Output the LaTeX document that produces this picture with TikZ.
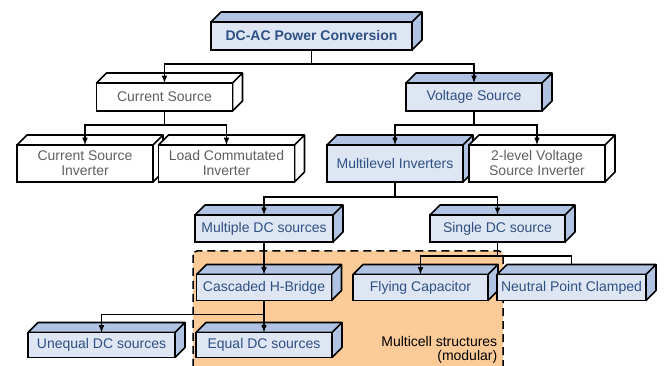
\documentclass[tikz,border=0pt]{standalone}
\usepackage{fontspec}
\setmainfont{Liberation Sans}
\usetikzlibrary{arrows}

\definecolor{frontblue}{RGB}{222,230,244}
\definecolor{sideblue}{RGB}{176,195,227}
\definecolor{txtblue}{RGB}{47,80,130}
\definecolor{txtgray}{RGB}{95,95,95}
\definecolor{modorange}{RGB}{252,203,152}

\tikzset{
  faces/.style={append after command={\pgfextra{
    \draw[line width=1.6pt,line join=round,fill=#1]
      (\tikzlastnode.north west) -- ++(10,10)
      -- ([shift={(10,10)}]\tikzlastnode.north east)
      -- ([shift={(10,10)}]\tikzlastnode.south east)
      -- (\tikzlastnode.south east) -- (\tikzlastnode.north east) -- cycle
      (\tikzlastnode.north east) -- ++(10,10);}}},
  box/.style={draw,line width=1.6pt,inner sep=0pt,outer sep=0pt,align=center,
    minimum width=136pt,minimum height=28pt,font=\fontsize{14}{15}\selectfont},
  bluebox/.style={box,fill=frontblue,text=txtblue,faces=sideblue},
  whitebox/.style={box,fill=white,text=txtgray,faces=white}
}

\begin{document}
\begin{tikzpicture}[x=1pt,y=1pt,>=latex,line width=1.5pt]

\useasboundingbox (0,0) rectangle (671,366);

% modular part
\draw[dashed,dash pattern=on 8pt off 5pt,fill=modorange,rounded corners=4pt] (193,115) rectangle (503,-20);
\node[anchor=north east,align=right,inner sep=0pt,font=\fontsize{14}{14}\selectfont] (modlabel) at (498,30) {Multicell structures\\(modular)};

\node[bluebox,minimum width=201pt,font=\bfseries\fontsize{14}{15}\selectfont] (conv) at (311.5,330) {DC-AC Power Conversion};

\node[whitebox] (cs) at (164.5,269) {Current Source};
\node[bluebox]  (vs) at (474,269) {Voltage Source};

\node[whitebox,minimum height=37pt] (csi) at (85,202.5) {Current Source\\Inverter};
\node[whitebox,minimum height=37pt] (lci) at (226.5,202.5) {Load Commutated\\Inverter};
\node[bluebox,minimum height=37pt]  (mli) at (395,202.5) {Multilevel Inverters};
\node[whitebox,minimum height=37pt] (lvl2) at (537,202.5) {2-level Voltage\\Source Inverter};

\node[bluebox,minimum width=138pt,minimum height=27pt] (mdc) at (264,137.5) {Multiple DC sources};
\node[bluebox,minimum width=135pt,minimum height=27pt] (sdc) at (497.5,137.5) {Single DC source};

\node[bluebox,minimum width=135pt,minimum height=26pt] (chb) at (264,78.5) {Cascaded H-Bridge};
\node[bluebox,minimum width=135pt,minimum height=26pt] (fc)  at (420.5,78.5) {Flying Capacitor};
\node[bluebox,minimum width=149pt,minimum height=26pt] (npc) at (571.5,78.5) {Neutral Point Clamped};

\node[bluebox,minimum width=147pt,minimum height=25pt] (udc) at (101.5,21) {Unequal DC sources};
\node[bluebox,minimum width=136pt,minimum height=25pt] (edc) at (264,21) {Equal DC sources};

% connectors
\draw[->] (conv.south) -- ++(0,-14) -| (cs.north);
\draw[->] (conv.south) -- ++(0,-14) -| (vs.north);
\draw[->] (cs.south) -- ++(0,-14) -| (csi.north);
\draw[->] (cs.south) -- ++(0,-14) -| (lci.north);
\draw[->] (vs.south) -- ++(0,-14) -| (mli.north);
\draw[->] (vs.south) -- ++(0,-14) -| (lvl2.north);
\draw[->] (mli.south) -- ++(0,-15) -| (mdc.north);
\draw[->] (mli.south) -- ++(0,-15) -| (sdc.north);
\draw[->] (sdc.south) -- ++(0,-14) -| (fc.north);
\draw     (sdc.south) -- ++(0,-14) -| ([yshift=10pt]npc.north);
\draw[->] (mdc.south) -- (chb.north);
\draw[->] (chb.south) -- ++(0,-14) -| (udc.north);
\draw[->] (chb.south) -- ++(0,-14) -| (edc.north);

\end{tikzpicture}
\end{document}
